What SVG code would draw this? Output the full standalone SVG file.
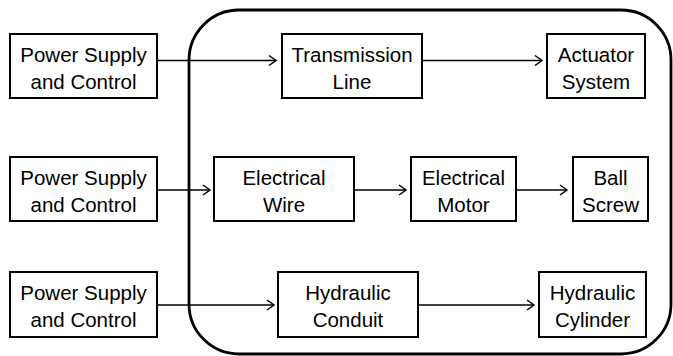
<svg xmlns="http://www.w3.org/2000/svg" width="673" height="356" viewBox="0 0 673 356">
<defs>
<style>
.box{fill:#fff;stroke:#000;stroke-width:2}
.t{font-family:"Liberation Sans",Arial,sans-serif;font-size:20.5px;fill:#000;text-anchor:middle}
.c{fill:none;stroke:#000;stroke-width:1.3}
.ah{fill:none;stroke:#000;stroke-width:1.5}
</style>
</defs>
<rect x="189" y="10" width="482" height="344" rx="50" ry="50" fill="none" stroke="#000" stroke-width="2.8"/>
<g id="connectors">
<line class="c" x1="157" y1="60.5" x2="276" y2="60.5"/><polyline class="ah" points="269,55.5 276,60.5 269,65.5"/>
<line class="c" x1="422" y1="60.5" x2="542" y2="60.5"/><polyline class="ah" points="535,55.5 542,60.5 535,65.5"/>
<line class="c" x1="157" y1="190" x2="210" y2="190"/><polyline class="ah" points="203,185 210,190 203,195"/>
<line class="c" x1="354" y1="190" x2="406" y2="190"/><polyline class="ah" points="399,185 406,190 399,195"/>
<line class="c" x1="516" y1="190" x2="567" y2="190"/><polyline class="ah" points="560,185 567,190 560,195"/>
<line class="c" x1="157" y1="305" x2="274" y2="305"/><polyline class="ah" points="267,300 274,305 267,310"/>
<line class="c" x1="418" y1="305" x2="534" y2="305"/><polyline class="ah" points="527,300 534,305 527,310"/>
</g>
<g id="ps1"><rect class="box" x="10" y="34" width="147" height="64"/><text class="t" x="83.5" y="62">Power Supply</text><text class="t" x="83.5" y="89">and Control</text></g>
<g id="ps2"><rect class="box" x="10" y="157" width="147" height="64"/><text class="t" x="83.5" y="185">Power Supply</text><text class="t" x="83.5" y="212">and Control</text></g>
<g id="ps3"><rect class="box" x="10" y="272" width="147" height="65"/><text class="t" x="83.5" y="300">Power Supply</text><text class="t" x="83.5" y="327">and Control</text></g>
<g id="transmission"><rect class="box" x="282" y="34" width="140" height="64"/><text class="t" x="352" y="62">Transmission</text><text class="t" x="352" y="89">Line</text></g>
<g id="actuator"><rect class="box" x="547" y="34" width="98" height="64"/><text class="t" x="596" y="62">Actuator</text><text class="t" x="596" y="89">System</text></g>
<g id="wire"><rect class="box" x="214" y="157" width="140" height="64"/><text class="t" x="284" y="185">Electrical</text><text class="t" x="284" y="212">Wire</text></g>
<g id="motor"><rect class="box" x="411" y="157" width="105" height="64"/><text class="t" x="463.5" y="185">Electrical</text><text class="t" x="463.5" y="212">Motor</text></g>
<g id="ballscrew"><rect class="box" x="573" y="157" width="75" height="64"/><text class="t" x="610.5" y="185">Ball</text><text class="t" x="610.5" y="212">Screw</text></g>
<g id="conduit"><rect class="box" x="278" y="272" width="140" height="65"/><text class="t" x="348" y="300">Hydraulic</text><text class="t" x="348" y="327">Conduit</text></g>
<g id="cylinder"><rect class="box" x="539" y="272" width="107" height="65"/><text class="t" x="592.5" y="300">Hydraulic</text><text class="t" x="592.5" y="327">Cylinder</text></g>
</svg>
